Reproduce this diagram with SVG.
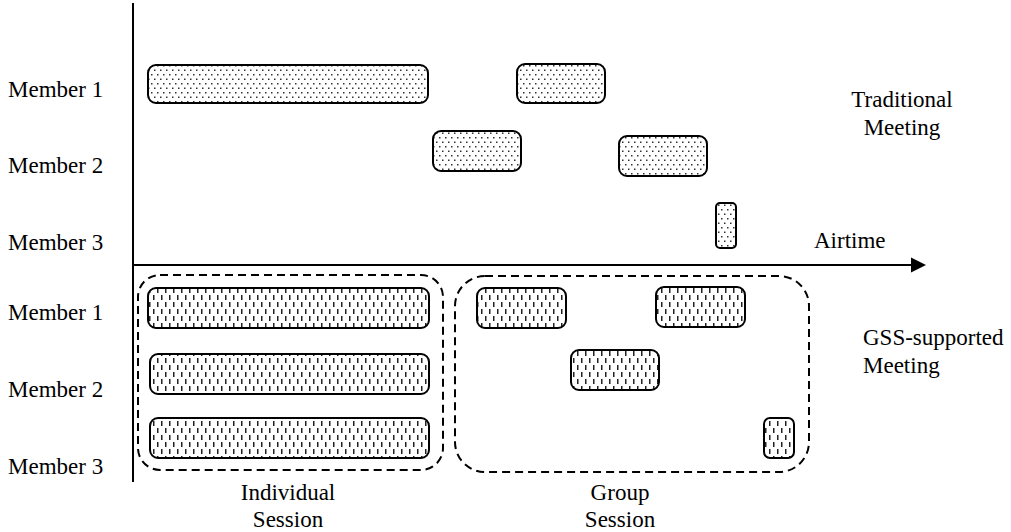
<svg xmlns="http://www.w3.org/2000/svg" width="1011" height="532" viewBox="0 0 1011 532">
<style>
text{font-family:"Liberation Serif","DejaVu Serif","Times New Roman",serif;font-size:23px;fill:#000}
.bar{stroke:#000;stroke-width:2}
.dot{fill:url(#dots)}
.dash{fill:url(#vdash)}
.grp{fill:none;stroke:#000;stroke-width:2;stroke-dasharray:8 5}
.axis{stroke:#000;stroke-width:2;fill:none}
</style>
<defs>
<pattern id="dots" width="6" height="9" patternUnits="userSpaceOnUse">
<rect width="6" height="9" fill="#fff"/>
<rect x="1" y="2" width="1.5" height="1.5" fill="#333"/>
<rect x="4" y="6.5" width="1.5" height="1.5" fill="#333"/>
</pattern>
<pattern id="vdash" width="8" height="14" patternUnits="userSpaceOnUse">
<rect width="8" height="14" fill="#fff"/>
<rect x="1" y="1" width="1.5" height="5" fill="#222"/>
<rect x="5" y="8" width="1.5" height="5" fill="#222"/>
</pattern>
</defs>
<g id="axes">
<line class="axis" x1="133" y1="3" x2="133" y2="482"/>
<line class="axis" x1="133" y1="265" x2="913" y2="265"/>
<polygon points="911,257.5 926,265 911,272.5" fill="#000"/>
</g>
<g id="labels">
<text x="8" y="97" font-family="Liberation Serif, serif">Member 1</text>
<text x="8" y="173" font-family="Liberation Serif, serif">Member 2</text>
<text x="8" y="250" font-family="Liberation Serif, serif">Member 3</text>
<text x="8" y="320" font-family="Liberation Serif, serif">Member 1</text>
<text x="8" y="397" font-family="Liberation Serif, serif">Member 2</text>
<text x="8" y="474" font-family="Liberation Serif, serif">Member 3</text>
<text x="814" y="248" font-family="Liberation Serif, serif">Airtime</text>
<text x="902" y="107" text-anchor="middle" font-family="Liberation Serif, serif">Traditional</text>
<text x="902" y="135" text-anchor="middle" font-family="Liberation Serif, serif">Meeting</text>
<text x="863" y="345" font-family="Liberation Serif, serif">GSS-supported</text>
<text x="863" y="373" font-family="Liberation Serif, serif">Meeting</text>
<text x="288" y="500" text-anchor="middle" font-family="Liberation Serif, serif">Individual</text>
<text x="288" y="527" text-anchor="middle" font-family="Liberation Serif, serif">Session</text>
<text x="620" y="500" text-anchor="middle" font-family="Liberation Serif, serif">Group</text>
<text x="620" y="527" text-anchor="middle" font-family="Liberation Serif, serif">Session</text>
</g>
<g id="traditional">
<rect class="bar dot" x="148" y="65" width="280" height="38" rx="8"/>
<rect class="bar dot" x="517" y="64" width="88" height="39" rx="8"/>
<rect class="bar dot" x="433" y="131" width="88" height="40" rx="8"/>
<rect class="bar dot" x="619" y="136" width="88" height="40" rx="8"/>
<rect class="bar dot" x="716" y="203" width="20" height="45" rx="4"/>
</g>
<g id="individual-session">
<rect class="grp" x="138" y="275" width="305" height="195" rx="22"/>
<rect class="bar dash" x="148" y="288" width="281" height="40" rx="8"/>
<rect class="bar dash" x="150" y="354" width="279" height="40" rx="8"/>
<rect class="bar dash" x="150" y="418" width="279" height="40" rx="8"/>
</g>
<g id="group-session">
<rect class="grp" x="455" y="276" width="354" height="196" rx="30"/>
<rect class="bar dash" x="477" y="288" width="89" height="40" rx="8"/>
<rect class="bar dash" x="656" y="287" width="89" height="40" rx="8"/>
<rect class="bar dash" x="571" y="350" width="88" height="40" rx="8"/>
<rect class="bar dash" x="764" y="418" width="30" height="40" rx="6"/>
</g>
</svg>
